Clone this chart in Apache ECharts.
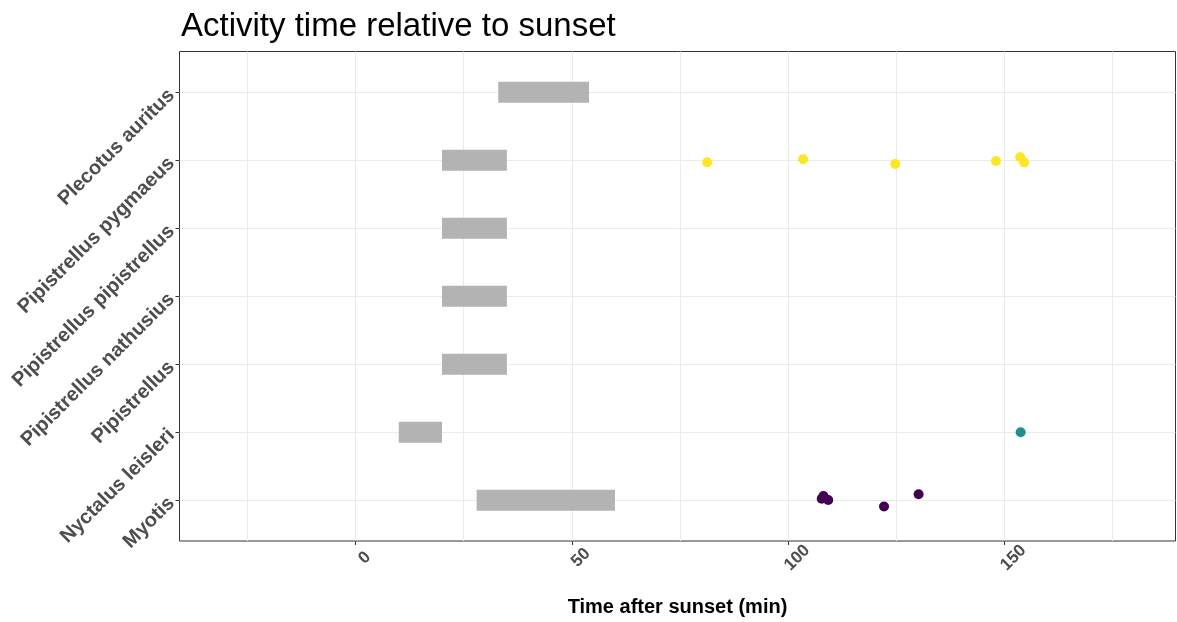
<!DOCTYPE html>
<html>
<head>
<meta charset="utf-8">
<script src="https://cdn.jsdelivr.net/npm/echarts@6/dist/echarts.min.js"></script>
<style>
html,body{margin:0;padding:0;background:#fff;}
#chart{width:1177px;height:622px;}
</style>
</head>
<body>
<div id="chart"></div>
<script>
// Categories, bottom to top
const species = ["Myotis", "Nyctalus leisleri", "Pipistrellus", "Pipistrellus nathusius", "Pipistrellus pipistrellus", "Pipistrellus pygmaeus", "Plecotus auritus"];
// Grey activity window per species (start, end) in minutes after sunset
const windowStart = [28, 10, 20, 20, 20, 20, 33];
const windowEnd   = [60, 20, 35, 35, 35, 35, 54];
// Observed points (minutes, jittered category position)
const myotisTime = [108.2, 107.8, 109.3, 122.2, 130.2];
const myotisY    = [0.063, 0.022, 0.004, -0.093, 0.088];
const nyctalusTime = [153.8];
const nyctalusY    = [1.0];
const pygmaeusTime = [81.3, 103.5, 124.8, 148.1, 153.7, 154.6];
const pygmaeusY    = [4.97, 5.015, 4.945, 4.99, 5.045, 4.966];
// Axis ticks
const xTickLabels = [0, 50, 100, 150];
const xGridValues = [-25, 0, 25, 50, 75, 100, 125, 150, 175];
const yTicks = [0, 1, 2, 3, 4, 5, 6];

const barData = species.map((s, i) => [windowStart[i], windowEnd[i], i]);
const zipPts = (xs, ys) => xs.map((x, i) => [x, ys[i]]);

const chart = echarts.init(document.getElementById('chart'), null, {renderer: 'canvas'});
const xMin = -40.7, xMax = 189.6;
const FONT = 'Liberation Sans, Arial, sans-serif';
chart.setOption({
  animation: false,
  backgroundColor: '#ffffff',
  title: {
    text: 'Activity time relative to sunset',
    left: 176, top: 5,
    textStyle: {fontFamily: FONT, fontSize: 33, fontWeight: 'normal', color: '#000'}
  },
  grid: {left: 179.5, top: 51.5, right: 1.5, bottom: 80.5, show: true, borderColor: '#333333', borderWidth: 1, backgroundColor: 'transparent'},
  xAxis: [{
    type: 'value', min: xMin, max: xMax, position: 'bottom',
    axisLine: {show: false, onZero: false},
    axisTick: {show: true, customValues: xTickLabels, length: 4, lineStyle: {color: '#333333', width: 1}},
    splitLine: {show: false},
    axisLabel: {
      customValues: xTickLabels, rotate: 45, align: 'center', verticalAlign: 'middle',
      margin: 26, padding: [0, 0, 0, 26],
      fontFamily: FONT, fontSize: 17, fontWeight: 'bold', color: '#4d4d4d'
    },
    name: 'Time after sunset (min)', nameLocation: 'middle', nameGap: 56,
    nameTextStyle: {fontFamily: FONT, fontSize: 20, fontWeight: 'bold', color: '#000'}
  }, {
    type: 'value', min: xMin, max: xMax, position: 'bottom', gridIndex: 0,
    axisLine: {show: false, onZero: false},
    axisTick: {show: false, customValues: xGridValues},
    splitLine: {show: true, lineStyle: {color: '#ebebeb', width: 1}},
    axisLabel: {show: false}
  }],
  yAxis: {
    type: 'value', min: -0.6, max: 6.6, position: 'left',
    axisLine: {show: false, onZero: false},
    axisTick: {show: true, customValues: yTicks, length: 4, lineStyle: {color: '#333333', width: 1}},
    splitLine: {show: true, lineStyle: {color: '#ebebeb', width: 1}},
    axisLabel: {
      customValues: yTicks, rotate: 45, margin: 8,
      formatter: v => species[Math.round(v)],
      fontFamily: FONT, fontSize: 20, fontWeight: 'bold', color: '#4d4d4d'
    }
  },
  series: [{
    type: 'custom',
    xAxisIndex: 0,
    data: barData,
    renderItem: function (params, api) {
      const s = api.coord([api.value(0), api.value(2)]);
      const e = api.coord([api.value(1), api.value(2)]);
      const h = api.size([0, 0.31])[1];
      return {type: 'rect', shape: {x: s[0], y: s[1] - h / 2, width: e[0] - s[0], height: h}, style: {fill: '#b3b3b3'}};
    },
    encode: {x: [0, 1], y: 2}
  }, {
    type: 'scatter', name: 'Myotis', xAxisIndex: 0, symbolSize: 10,
    itemStyle: {color: '#440154', opacity: 1}, data: zipPts(myotisTime, myotisY)
  }, {
    type: 'scatter', name: 'Nyctalus leisleri', xAxisIndex: 0, symbolSize: 10,
    itemStyle: {color: '#21908C', opacity: 1}, data: zipPts(nyctalusTime, nyctalusY)
  }, {
    type: 'scatter', name: 'Pipistrellus pygmaeus', xAxisIndex: 0, symbolSize: 10,
    itemStyle: {color: '#FDE725', opacity: 1}, data: zipPts(pygmaeusTime, pygmaeusY)
  }]
});
</script>
</body>
</html>
